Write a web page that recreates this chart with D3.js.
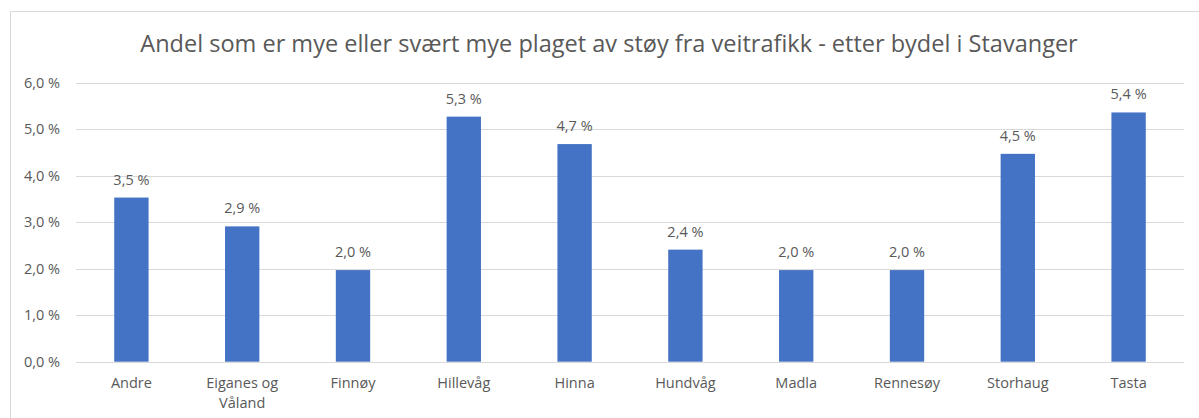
<!doctype html>
<html lang="no">
<head>
<meta charset="utf-8">
<title>Støy fra veitrafikk</title>
<script src="https://d3js.org/d3.v7.min.js"></script>
<style>
  body { margin: 0; background: #fff; }
  text { font-family: "Open Sans", sans-serif; fill: #595959; }
</style>
</head>
<body>
<div id="chart"></div>
<script>
// data
var bydeler = ["Andre", "Eiganes og Våland", "Finnøy", "Hillevåg", "Hinna",
               "Hundvåg", "Madla", "Rennesøy", "Storhaug", "Tasta"];
var andel = [3.53, 2.91, 1.97, 5.27, 4.68, 2.41, 1.97, 1.97, 4.47, 5.36];
var yTicks = [0, 1, 2, 3, 4, 5, 6];
var tittel = "Andel som er mye eller svært mye plaget av støy fra veitrafikk - etter bydel i Stavanger";

var width = 1199, height = 418;
var plotLeft = 76, plotRight = 1184, plotTop = 82.7, plotBottom = 361.7;

var svg = d3.select("#chart").append("svg")
    .attr("width", width)
    .attr("height", height);

// chart frame (goes past the picture edges)
svg.append("rect")
    .attr("x", 10.5).attr("y", 11.5)
    .attr("width", 1300).attr("height", 500)
    .attr("fill", "#fff")
    .attr("stroke", "#d9d9d9");

var fmt = function (v) { return d3.format(".1f")(v).replace(".", ",") + "\u00a0%"; };

var x = d3.scaleBand()
    .domain(bydeler)
    .range([plotLeft, plotRight])
    .paddingInner(0.69)
    .paddingOuter(0.345);

var y = d3.scaleLinear()
    .domain([0, 6])
    .range([plotBottom, plotTop]);

// gridlines
svg.append("g")
    .selectAll("line")
    .data(yTicks)
    .enter()
    .append("line")
    .attr("x1", plotLeft).attr("x2", plotRight)
    .attr("y1", function (d) { return Math.round(y(d)) + 0.5; })
    .attr("y2", function (d) { return Math.round(y(d)) + 0.5; })
    .attr("stroke", "#d9d9d9")
    .attr("stroke-width", 1);

// y labels
var yAxis = d3.axisLeft(y).tickValues(yTicks).tickFormat(fmt).tickSize(0).tickPadding(0);
var gy = svg.append("g")
    .attr("transform", "translate(60,0)")
    .call(yAxis);
gy.select(".domain").remove();
gy.selectAll("text")
    .style("font-size", "14.5px")
    .style("font-family", "'Open Sans', sans-serif")
    .attr("fill", "#595959");

// bars
svg.append("g")
    .selectAll("rect")
    .data(bydeler)
    .enter()
    .append("rect")
    .attr("x", function (d) { return x(d); })
    .attr("width", x.bandwidth())
    .attr("y", function (d, i) { return y(andel[i]); })
    .attr("height", function (d, i) { return y(0) - y(andel[i]); })
    .attr("fill", "#4472C4");

// value labels
svg.append("g")
    .selectAll("text")
    .data(bydeler)
    .enter()
    .append("text")
    .attr("x", function (d) { return x(d) + x.bandwidth() / 2; })
    .attr("y", function (d, i) { return y(andel[i]) - 13; })
    .attr("text-anchor", "middle")
    .style("font-size", "14.5px")
    .text(function (d, i) { return fmt(andel[i]); });

// category labels, wrapped in two lines where needed
var xAxis = d3.axisBottom(x).tickSize(0).tickPadding(0);
var gx = svg.append("g")
    .call(xAxis);
gx.select(".domain").remove();
gx.selectAll("text").remove();
gx.selectAll(".tick").each(function (d) {
    var words = d === "Eiganes og Våland" ? ["Eiganes og", "Våland"] : [d];
    var t = d3.select(this).append("text")
        .attr("text-anchor", "middle")
        .style("font-size", "14.5px")
        .style("font-family", "'Open Sans', sans-serif")
        .attr("fill", "#595959");
    words.forEach(function (w, i) {
        t.append("tspan").attr("x", 0).attr("y", 388 + i * 20).text(w);
    });
});

// title, sized to the width it has in the picture
var title = svg.append("text")
    .attr("x", 609)
    .attr("y", 52)
    .attr("text-anchor", "middle")
    .style("font-size", "22px")
    .text(tittel);
var w = title.node().getComputedTextLength();
title.style("font-size", (22 * 938 / w) + "px");
</script>
</body>
</html>
